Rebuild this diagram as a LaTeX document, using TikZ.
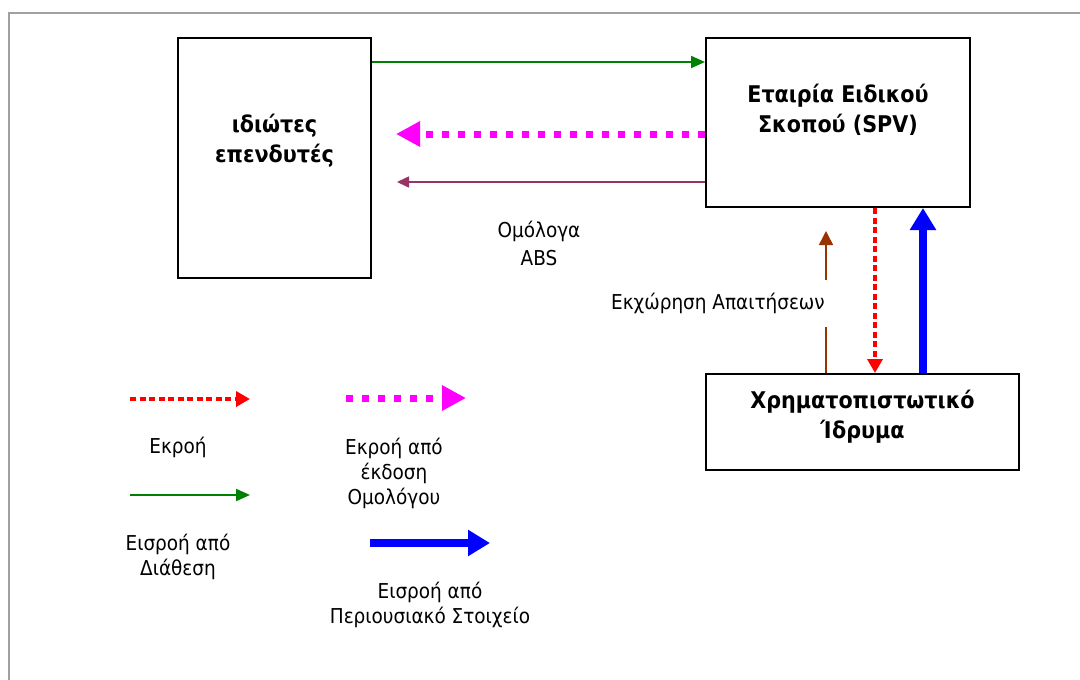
\documentclass[tikz,border=0pt]{standalone}
\usepackage{fontspec}
\setmainfont{DejaVu Sans Condensed}
\usetikzlibrary{arrows.meta}

\definecolor{xlgreen}{HTML}{008000}
\definecolor{xlmagenta}{HTML}{FF00FF}
\definecolor{xlplum}{HTML}{993366}
\definecolor{xlbrown}{HTML}{993300}
\definecolor{xlred}{HTML}{FF0000}
\definecolor{xlblue}{HTML}{0000FF}
\definecolor{framegray}{HTML}{A0A0A0}

\tikzset{
  box/.style={draw=black, line width=2pt, fill=white, inner sep=0pt},
  boxtext/.style={font=\bfseries\fontsize{23}{30}\selectfont, align=center},
  note/.style={fill=white, align=center, inner sep=0pt, font=\fontsize{20.5}{25}\selectfont},
  flowout/.style={xlred, line width=4pt, dash pattern=on 6pt off 3.5pt, -{Triangle[length=14pt, width=15pt]}},
  flowbond/.style={xlmagenta, line width=7pt, dash pattern=on 7pt off 9pt, -{Triangle[length=24pt, width=24pt]}},
  flowin/.style={xlgreen, line width=2pt, -{Triangle[length=14pt, width=12pt]}},
  flowasset/.style={xlblue, line width=8pt, -{Triangle[length=22pt, width=25pt]}},
  bondline/.style={xlplum, line width=1.5pt, -{Triangle[length=12pt, width=11pt]}},
  claimline/.style={xlbrown, line width=1.5pt, -{Triangle[length=14pt, width=14pt]}}
}

\begin{document}
\begin{tikzpicture}[x=1pt, y=-1pt]

  \useasboundingbox (0,0) rectangle (1080,680);

  % Frame
  \draw[framegray, line width=2pt] (9,680) -- (9,13) -- (1080,13);

  % Boxes
  \node[box, minimum width=193pt, minimum height=240pt] (inv) at (274.5,158) {};
  \node[boxtext] (invtext) at ([yshift=17pt]inv.center) {ιδιώτες\\επενδυτές};

  \node[box, minimum width=264pt, minimum height=169pt] (spv) at (838,122.5) {};
  \node[boxtext] (spvtext) at ([yshift=13pt]spv.center) {Εταιρία Ειδικού\\Σκοπού (SPV)};

  \node[box, minimum width=313pt, minimum height=96pt] (bank) at (862.5,422) {};
  \node[boxtext] (banktext) at ([yshift=5pt]bank.center) {Χρηματοπιστωτικό\\Ίδρυμα};

  % Labels of the flows
  \node[note, minimum width=143pt, minimum height=94pt, font=\fontsize{20.5}{28}\selectfont] (bonds) at (539,243) {Ομόλογα\\ABS};

  % Flows between investors and SPV
  \draw[flowin] (inv.east |- 0,62) -- (spv.west |- 0,62);
  \draw[flowbond, shorten >=24pt] (spv.west |- 0,134) -- (inv.east |- 0,134);
  \draw[bondline, shorten >=25pt] (spv.west |- 0,182) -- (inv.east |- 0,182);

  % Flows between SPV and bank
  \draw[claimline, shorten >=23pt] (bank.north -| 826,0) -- (spv.south -| 826,0);
  \node[note, minimum width=264pt, minimum height=47pt] (claims) at (718,303) {Εκχώρηση Απαιτήσεων};
  \draw[flowout] (spv.south -| 875,0) -- (bank.north -| 875,0);
  \draw[flowasset] (bank.north -| 923,0) -- (spv.south -| 923,0);

  % Legend
  \coordinate (outA) at (130,399);
  \coordinate (outB) at (250,399);
  \coordinate (bondA) at (346,398);
  \coordinate (bondB) at (466,398);
  \coordinate (inA) at (130,495);
  \coordinate (inB) at (250,495);
  \coordinate (assetA) at (370,543);
  \coordinate (assetB) at (490,543);

  \draw[flowout] (outA) -- (outB);
  \draw[flowbond] (bondA) -- (bondB);
  \draw[flowin] (inA) -- (inB);
  \draw[flowasset] (assetA) -- (assetB);

  \node[note, minimum width=193pt, minimum height=48pt] (outlabel) at (178,447) {Εκροή};
  \node[note, minimum width=193pt, minimum height=80pt] (bondlabel) at (394,473) {Εκροή από\\έκδοση\\Ομολόγου};
  \node[note, minimum width=193pt, minimum height=80pt] (inlabel) at (178,557) {Εισροή από\\Διάθεση};
  \node[note, minimum width=200pt, minimum height=60pt] (assetlabel) at (430,605) {Εισροή από\\Περιουσιακό Στοιχείο};

\end{tikzpicture}
\end{document}
